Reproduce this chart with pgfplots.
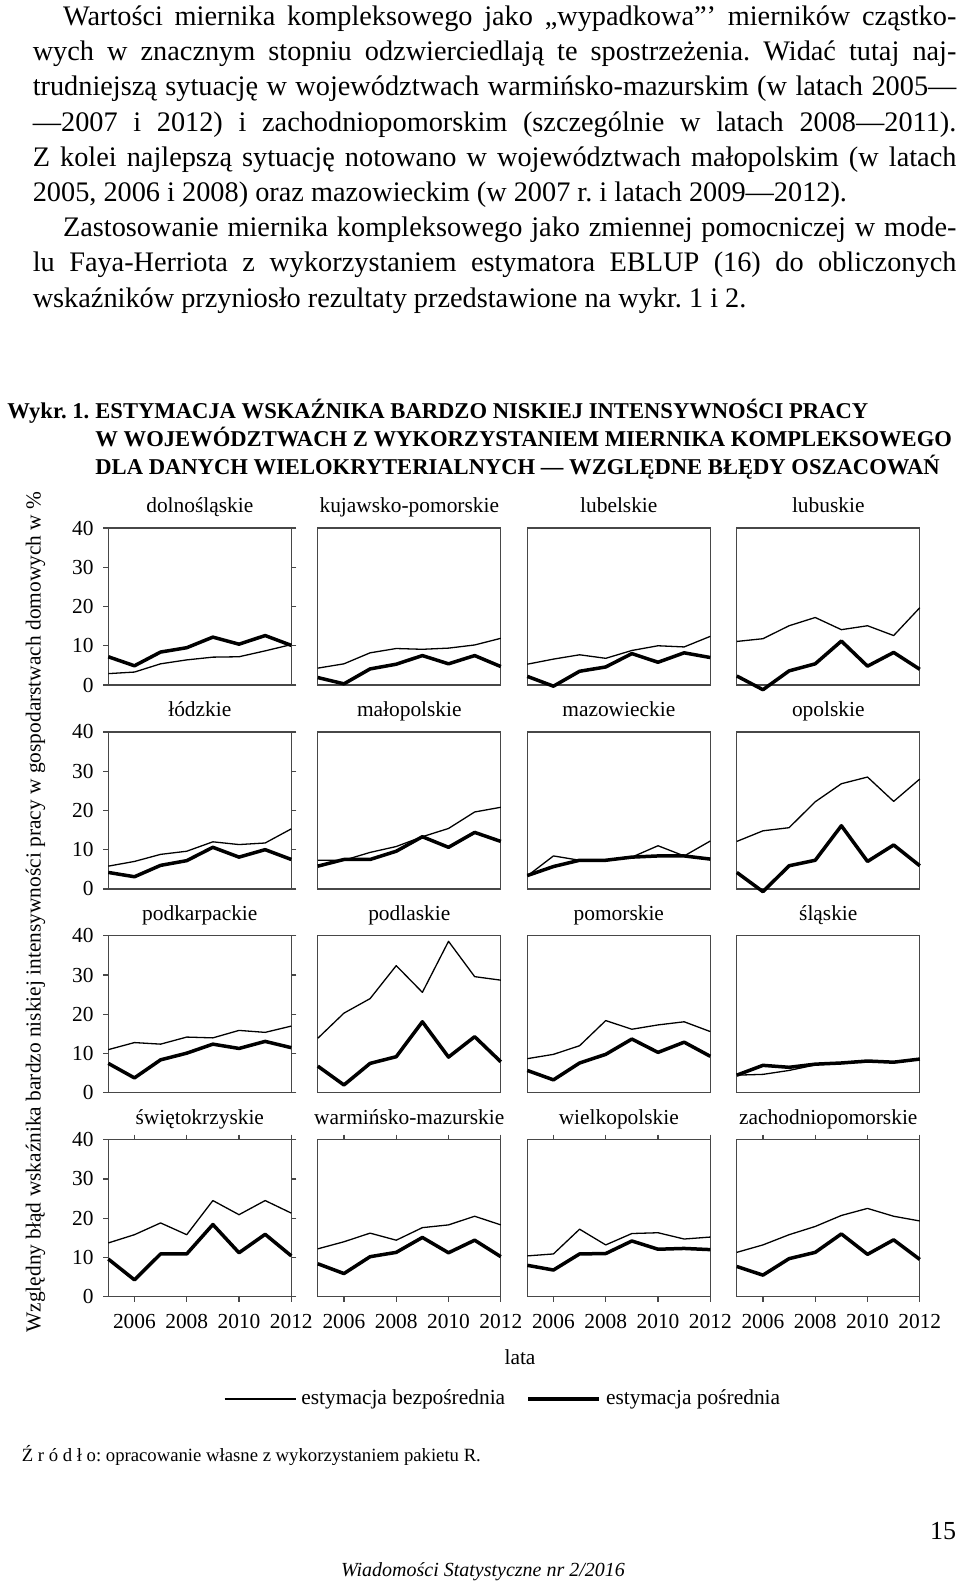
\documentclass[border=0pt]{standalone}
\usepackage{pgfplots}
\pgfplotsset{compat=1.18}
\usepackage{pgfplotstable}
\usepackage{fontspec}
\setmainfont{Liberation Serif}
\frenchspacing

\newcommand\bodyfont{\fontsize{14.15pt}{17.6pt}\selectfont}
\newcommand\titlefont{\fontsize{11.3pt}{13.9pt}\selectfont\bfseries}
\newcommand\chartfont{\fontsize{10.7pt}{12pt}\selectfont}
\newcommand\jline[4]{\node[anchor=base west, inner sep=0pt] at (#1pt,-#2pt) {\bodyfont\makebox[#3pt][s]{#4}};}
\newcommand\nline[3]{\node[anchor=base west, inner sep=0pt] at (#1pt,-#2pt) {\bodyfont #3};}
\newcommand\tline[3]{\node[anchor=base west, inner sep=0pt] at (#1pt,-#2pt) {\titlefont #3};}

% year  direct(estymacja bezposrednia)  indirect(estymacja posrednia)
\pgfplotstableread{
year d e
2005 2.9 7.2
2006 3.3 4.9
2007 5.4 8.4
2008 6.4 9.5
2009 7.1 12.2
2010 7.2 10.4
2011 8.7 12.6
2012 10.3 10.1
}\tdol
\pgfplotstableread{
year d e
2005 4.3 1.9
2006 5.4 0.3
2007 8.2 4.1
2008 9.3 5.3
2009 9.1 7.5
2010 9.4 5.4
2011 10.2 7.5
2012 11.9 4.7
}\tkuj
\pgfplotstableread{
year d e
2005 5.3 2.2
2006 6.6 -0.3
2007 7.7 3.5
2008 6.8 4.6
2009 8.8 8.0
2010 10.0 5.8
2011 9.7 8.2
2012 12.4 7.0
}\tlub
\pgfplotstableread{
year d e
2005 11.1 2.3
2006 11.8 -1.2
2007 15.1 3.6
2008 17.2 5.4
2009 14.1 11.2
2010 15.1 4.8
2011 12.6 8.3
2012 19.7 4.0
}\tlbs
\pgfplotstableread{
year d e
2005 5.8 4.2
2006 7.0 3.1
2007 8.8 6.0
2008 9.6 7.2
2009 12.0 10.6
2010 11.3 8.1
2011 11.7 10.0
2012 15.3 7.5
}\tlod
\pgfplotstableread{
year d e
2005 7.3 5.8
2006 7.3 7.5
2007 9.3 7.5
2008 10.8 9.6
2009 13.3 13.3
2010 15.4 10.6
2011 19.6 14.4
2012 20.8 12.1
}\tmal
\pgfplotstableread{
year d e
2005 3.3 3.4
2006 8.4 5.7
2007 7.3 7.3
2008 7.3 7.3
2009 8.1 8.1
2010 11.0 8.4
2011 8.4 8.4
2012 12.2 7.6
}\tmaz
\pgfplotstableread{
year d e
2005 12.1 4.2
2006 14.8 -0.7
2007 15.6 5.9
2008 22.2 7.3
2009 26.8 16.1
2010 28.5 7.0
2011 22.3 11.2
2012 28.0 5.9
}\topo
\pgfplotstableread{
year d e
2005 11.0 7.5
2006 12.8 3.8
2007 12.4 8.4
2008 14.2 10.1
2009 14.0 12.4
2010 15.9 11.3
2011 15.4 13.1
2012 17.0 11.5
}\tpdk
\pgfplotstableread{
year d e
2005 13.9 6.8
2006 20.3 2.0
2007 24.0 7.5
2008 32.4 9.2
2009 25.6 18.1
2010 38.6 9.1
2011 29.6 14.3
2012 28.7 7.9
}\tpdl
\pgfplotstableread{
year d e
2005 8.7 5.7
2006 9.8 3.3
2007 12.0 7.6
2008 18.4 9.8
2009 16.2 13.7
2010 17.3 10.3
2011 18.1 12.9
2012 15.6 9.3
}\tpom
\pgfplotstableread{
year d e
2005 4.5 4.5
2006 4.7 7.0
2007 5.7 6.5
2008 7.1 7.3
2009 7.6 7.6
2010 7.8 8.1
2011 7.9 7.8
2012 8.7 8.6
}\tsla
\pgfplotstableread{
year d e
2005 13.7 9.6
2006 15.8 4.3
2007 18.8 10.9
2008 15.8 10.9
2009 24.5 18.4
2010 20.9 11.2
2011 24.5 15.9
2012 21.3 10.4
}\tswi
\pgfplotstableread{
year d e
2005 12.2 8.4
2006 14.0 5.9
2007 16.2 10.2
2008 14.4 11.3
2009 17.6 15.1
2010 18.3 11.2
2011 20.5 14.4
2012 18.3 10.2
}\twar
\pgfplotstableread{
year d e
2005 10.4 8.0
2006 10.9 6.8
2007 17.2 10.9
2008 13.2 11.0
2009 16.1 14.2
2010 16.3 12.1
2011 14.7 12.3
2012 15.2 12.0
}\twlk
\pgfplotstableread{
year d e
2005 11.3 7.7
2006 13.2 5.5
2007 15.8 9.7
2008 17.9 11.3
2009 20.7 16.0
2010 22.5 10.8
2011 20.5 14.5
2012 19.3 9.5
}\tzch

\pgfplotsset{
  panel/.style={
    width=91.5pt, height=78.5pt, scale only axis,
    xmin=2005, xmax=2012, ymin=0, ymax=40,
    clip=false,
    axis line style={draw=black!72, line width=0.6pt},
    every tick/.style={black!72, line width=0.6pt},
    tick align=outside, major tick length=2.5pt,
    xtick=\empty, ytick=\empty,
    anchor=south west,
    title style={at={(0.5,1)}, anchor=base, yshift=1.6pt, font=\chartfont, inner sep=0pt},
    /pgf/number format/assume math mode=true,
    tick label style={font=\chartfont},
  },
  leftcol/.style={ytick={0,10,20,30,40},
    yticklabel style={anchor=east, inner sep=0pt, xshift=-4.65pt}},
  bottomrow/.style={xtick={2006,2008,2010,2012}, xticklabels={2006,2008,2010,2012},
    xticklabel style={anchor=base, inner sep=0pt, yshift=-13.15pt}},
  thinline/.style={black, line width=0.65pt, mark=none, line join=round},
  thickline/.style={black, line width=1.75pt, mark=none, line join=round},
}

\newcommand\panel[4]{%
\begin{axis}[panel, at={#1}, title={#2}, #4]
\addplot[thinline] table[x=year,y=d] {#3};
\addplot[thickline] table[x=year,y=e] {#3};
\end{axis}}

\begin{document}
\begin{tikzpicture}
\path[use as bounding box] (0pt,0pt) rectangle (480pt,-793pt);

% body text
\jline{31.35}{12.75}{446.65}{Wartości miernika kompleksowego jako „wypadkowa”' mierników cząstko-}
\jline{16.2}{30.35}{461.8}{wych w znacznym stopniu odzwierciedlają te spostrzeżenia. Widać tutaj naj-}
\jline{16.2}{47.95}{461.8}{trudniejszą sytuację w województwach warmińsko-mazurskim (w latach 2005—}
\jline{16.2}{65.55}{461.8}{—2007 i 2012) i zachodniopomorskim (szczególnie w latach 2008—2011).}
\jline{16.2}{83.15}{461.8}{Z kolei najlepszą sytuację notowano w województwach małopolskim (w latach}
\nline{16.2}{100.75}{2005, 2006 i 2008) oraz mazowieckim (w 2007 r. i latach 2009—2012).}
\jline{31.35}{118.35}{446.65}{Zastosowanie miernika kompleksowego jako zmiennej pomocniczej w mode-}
\jline{16.2}{135.95}{461.8}{lu Faya-Herriota z wykorzystaniem estymatora EBLUP (16) do obliczonych}
\nline{16.2}{153.55}{wskaźników przyniosło rezultaty przedstawione na wykr. 1 i 2.}

% figure title
\tline{3.5}{209.15}{Wykr. 1.}
\tline{47.5}{209.15}{ESTYMACJA WSKAŹNIKA BARDZO NISKIEJ INTENSYWNOŚCI PRACY}
\tline{47.5}{223.35}{W WOJEWÓDZTWACH Z WYKORZYSTANIEM MIERNIKA KOMPLEKSOWEGO}
\tline{47.5}{237.25}{DLA DANYCH WIELOKRYTERIALNYCH — WZGLĘDNE BŁĘDY OSZACOWAŃ}

% y axis label
\node[rotate=90, inner sep=0pt, font=\chartfont] at (17.7pt,-456pt)
  {Względny błąd wskaźnika bardzo niskiej intensywności pracy w gospodarstwach domowych w \%};

% row 1
\panel{(54.15pt,-342.5pt)}{dolnośląskie}{\tdol}{leftcol}
\panel{(158.9pt,-342.5pt)}{kujawsko-pomorskie}{\tkuj}{}
\panel{(263.65pt,-342.5pt)}{lubelskie}{\tlub}{}
\panel{(368.4pt,-342.5pt)}{lubuskie}{\tlbs}{}
% row 2
\panel{(54.15pt,-444.45pt)}{łódzkie}{\tlod}{leftcol}
\panel{(158.9pt,-444.45pt)}{małopolskie}{\tmal}{}
\panel{(263.65pt,-444.45pt)}{mazowieckie}{\tmaz}{}
\panel{(368.4pt,-444.45pt)}{opolskie}{\topo}{}
% row 3
\panel{(54.15pt,-546.4pt)}{podkarpackie}{\tpdk}{leftcol}
\panel{(158.9pt,-546.4pt)}{podlaskie}{\tpdl}{}
\panel{(263.65pt,-546.4pt)}{pomorskie}{\tpom}{}
\panel{(368.4pt,-546.4pt)}{śląskie}{\tsla}{}
% row 4
\panel{(54.15pt,-648.35pt)}{świętokrzyskie}{\tswi}{leftcol,bottomrow}
\panel{(158.9pt,-648.35pt)}{warmińsko-mazurskie}{\twar}{bottomrow}
\panel{(263.65pt,-648.35pt)}{wielkopolskie}{\twlk}{bottomrow}
\begin{axis}[panel, bottomrow, at={(368.4pt,-648.35pt)}, title={zachodniopomorskie},
  legend columns=2,
  legend style={at={(axis description cs:-2.805,-0.6516)}, anchor=west, draw=none, fill=none,
    inner sep=0pt, font=\chartfont, nodes={inner sep=2.6pt},
    /tikz/every even column/.append style={column sep=8pt}},
  legend cell align=left,
  legend image code/.code={\draw[#1] (0pt,0pt) -- (35.5pt,0pt);}]
\addplot[thinline] table[x=year,y=d] {\tzch};
\addlegendentry{estymacja bezpośrednia}
\addplot[thickline] table[x=year,y=e] {\tzch};
\addlegendentry{estymacja pośrednia}
\end{axis}

\node[font=\chartfont, inner sep=0pt] at (260pt,-678.5pt) {lata};

% source, page number, footer
\node[anchor=base west, inner sep=0pt, font=\fontsize{9.35pt}{11pt}\selectfont] at (10.7pt,-730.8pt)
  {Ź r ó d ł o: opracowanie własne z wykorzystaniem pakietu R.};
\node[anchor=base east, inner sep=0pt, font=\fontsize{13pt}{15pt}\selectfont] at (478.3pt,-769.5pt) {15};
\node[anchor=base, inner sep=0pt, font=\fontsize{10pt}{12pt}\selectfont\itshape] at (241.5pt,-788.3pt)
  {Wiadomości Statystyczne nr 2/2016};
\end{tikzpicture}
\end{document}
